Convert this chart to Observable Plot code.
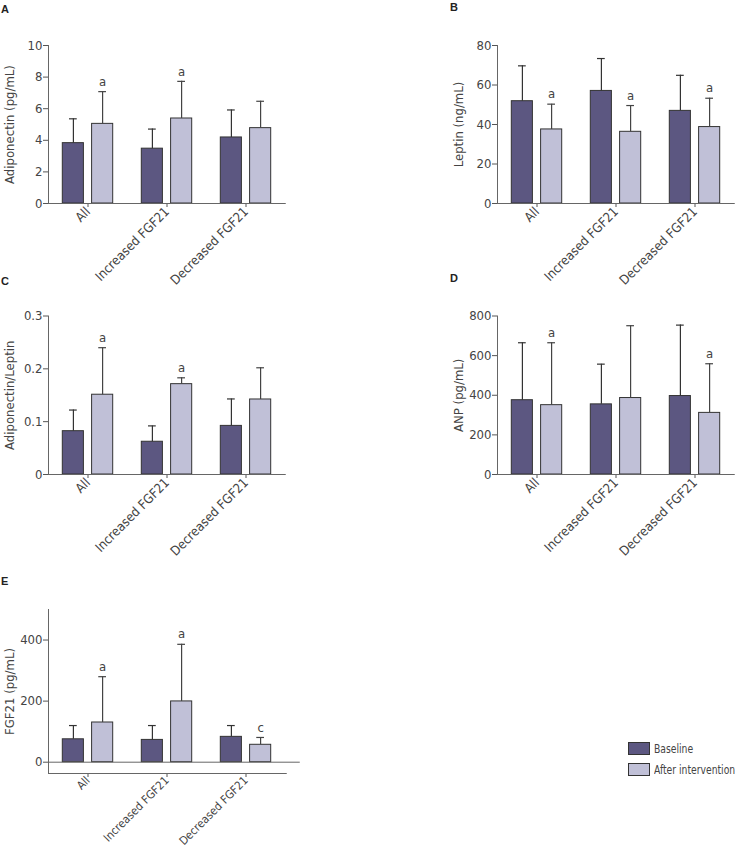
<!DOCTYPE html>
<html><head><meta charset="utf-8">
<script src="https://cdn.jsdelivr.net/npm/d3@7"></script>
<script src="https://cdn.jsdelivr.net/npm/@observablehq/plot@0.6"></script>
<style>
body{margin:0;background:#fff;}
#root{position:relative;width:737px;height:847px;overflow:hidden;font-family:"Liberation Sans Narrow","DejaVu Sans Condensed","Liberation Sans",sans-serif;color:#444;}
.panel{position:absolute;}
.letter{position:absolute;font-weight:bold;font-size:11px;color:#222;font-family:"Liberation Sans","DejaVu Sans",sans-serif;}
.sw{position:absolute;width:20px;height:11px;border:1px solid #333;}
.lt{position:absolute;font-size:12.5px;line-height:13px;color:#444;white-space:nowrap;transform:scaleX(0.82);transform-origin:0 50%;}
</style></head><body><div id="root"></div>
<script>
const categories = ["All", "Increased FGF21", "Decreased FGF21"];
const seriesNames = ["Baseline", "After intervention"];
const baseColor = "#5c5781";
const afterColor = "#c0c0d7";

// A: Adiponectin (pg/mL)
const adipoBase = [3.82, 3.47, 4.18];
const adipoBaseSD = [1.54, 1.24, 1.74];
const adipoAfter = [5.04, 5.38, 4.77];
const adipoAfterSD = [2.04, 2.35, 1.70];
const adipoMarks = ["a", "a", ""];
const adipoTicks = [0, 2, 4, 6, 8, 10];

// B: Leptin (ng/mL)
const leptinBase = [51.8, 57.0, 46.9];
const leptinBaseSD = [17.9, 16.4, 18.0];
const leptinAfter = [37.5, 36.3, 38.7];
const leptinAfterSD = [12.8, 13.3, 14.6];
const leptinMarks = ["a", "a", "a"];
const leptinTicks = [0, 20, 40, 60, 80];

// C: Adiponectin/Leptin
const ratioBase = [0.082, 0.062, 0.092];
const ratioBaseSD = [0.040, 0.030, 0.051];
const ratioAfter = [0.151, 0.171, 0.142];
const ratioAfterSD = [0.089, 0.012, 0.060];
const ratioMarks = ["a", "a", ""];
const ratioTicks = [0, 0.1, 0.2, 0.3];

// D: ANP (pg/mL)
const anpBase = [375, 354, 396];
const anpBaseSD = [290, 203, 358];
const anpAfter = [350, 386, 311];
const anpAfterSD = [315, 365, 248];
const anpMarks = ["a", "", "a"];
const anpTicks = [0, 200, 400, 600, 800];

// E: FGF21 (pg/mL)
const fgfBase = [75, 73, 83];
const fgfBaseSD = [45, 47, 37];
const fgfAfter = [130, 199, 57];
const fgfAfterSD = [150, 187, 24];
const fgfMarks = ["a", "a", "c"];
const fgfTicks = [0, 200, 400];

const root = document.getElementById("root");
const FONT = '"Liberation Sans Narrow","DejaVu Sans Condensed","Liberation Sans",sans-serif';

function rows(means, sds, marks, s) {
  return categories.map((c, i) => ({category: c, series: s, mean: means[i], sd: sds[i], hi: means[i] + sds[i], mark: marks ? marks[i] : ""}));
}

function panel(o) {
  const b = rows(o.base, o.baseSD, null, seriesNames[0]);
  const a = rows(o.after, o.afterSD, o.marks, seriesNames[1]);
  const marks = [
    Plot.barY(b, {x: "category", y: "mean", fill: baseColor, stroke: "#333", strokeWidth: 1, insetLeft: 14.3, insetRight: 43.6}),
    Plot.barY(a, {x: "category", y: "mean", fill: afterColor, stroke: "#333", strokeWidth: 1, insetLeft: 43.6, insetRight: 14.3}),
    Plot.ruleX(b, {x: "category", y1: "mean", y2: "hi", dx: -14.6, stroke: "#333", strokeWidth: 1.2}),
    Plot.ruleX(a, {x: "category", y1: "mean", y2: "hi", dx: 14.6, stroke: "#444", strokeWidth: 1.2}),
    Plot.tickY(b, {x: "category", y: "hi", insetLeft: 21, insetRight: 50.25, stroke: "#333", strokeWidth: 1.2}),
    Plot.tickY(a, {x: "category", y: "hi", insetLeft: 50.25, insetRight: 21, stroke: "#444", strokeWidth: 1.2}),
    Plot.text(a, {x: "category", y: "hi", text: "mark", dx: 14.6, dy: -10, fontSize: 13, fill: "#444"}),
    Plot.axisY({ticks: o.yTicks, tickFormat: d => String(d), tickSize: 5, tickPadding: 1, fontSize: 13, label: o.yLabel, labelAnchor: "center", labelOffset: 44, labelArrow: "none", stroke: "#555"}),
    Plot.axisX({tickRotate: -45, tickSize: 4, tickPadding: o.xPad ?? 2, fontSize: o.xFont || 13, label: null, stroke: "#555"}),
    Plot.frame({anchor: "left", stroke: "#666"}),
  ];
  if (o.zeroExtend) {
    marks.push(Plot.frame({anchor: "bottom", stroke: "#666"}));
    marks.push(Plot.ruleY([0], {stroke: "#666", insetRight: -14}));
  } else {
    marks.push(Plot.ruleY([0], {stroke: "#666"}));
  }
  const svg = Plot.plot({
    width: o.width, height: o.height,
    marginLeft: 48, marginRight: o.width - 48 - 237.75,
    marginTop: o.marginTop, marginBottom: o.height - o.zeroY,
    style: {fontFamily: FONT, color: "#444", background: "transparent", overflow: "visible"},
    x: {domain: categories, padding: 0, axis: null},
    y: {domain: o.yDomain, axis: null},
    marks
  });
  const div = document.createElement("div");
  div.className = "panel";
  div.style.left = o.left + "px";
  div.style.top = o.top + "px";
  div.appendChild(svg);
  root.appendChild(div);
}

panel({left: 0, top: 0, width: 300, height: 270, marginTop: 45, zeroY: 203, yDomain: [0, 10], yTicks: adipoTicks, yLabel: "Adiponectin (pg/mL)", base: adipoBase, baseSD: adipoBaseSD, after: adipoAfter, afterSD: adipoAfterSD, marks: adipoMarks});
panel({left: 449, top: 0, width: 288, height: 270, marginTop: 45, zeroY: 203, yDomain: [0, 80], yTicks: leptinTicks, yLabel: "Leptin (ng/mL)", base: leptinBase, baseSD: leptinBaseSD, after: leptinAfter, afterSD: leptinAfterSD, marks: leptinMarks});
panel({left: 0, top: 270, width: 300, height: 270, marginTop: 45.5, zeroY: 204, yDomain: [0, 0.3], yTicks: ratioTicks, yLabel: "Adiponectin/Leptin", base: ratioBase, baseSD: ratioBaseSD, after: ratioAfter, afterSD: ratioAfterSD, marks: ratioMarks});
panel({left: 449, top: 270, width: 288, height: 270, marginTop: 45.5, zeroY: 204, yDomain: [0, 800], yTicks: anpTicks, yLabel: "ANP (pg/mL)", base: anpBase, baseSD: anpBaseSD, after: anpAfter, afterSD: anpAfterSD, marks: anpMarks});
panel({left: 0, top: 560, width: 320, height: 287, marginTop: 49, zeroY: 213, yDomain: [-37, 500], yTicks: fgfTicks, yLabel: "FGF21 (pg/mL)", base: fgfBase, baseSD: fgfBaseSD, after: fgfAfter, afterSD: fgfAfterSD, marks: fgfMarks, zeroExtend: true, xFont: 11.5, xPad: 1});

// panel letters
[["A", 1, 3], ["B", 450, 1], ["C", 1, 275], ["D", 450, 272], ["E", 1, 575]].forEach(([t, x, y]) => {
  const d = document.createElement("div");
  d.className = "letter"; d.textContent = t;
  d.style.left = x + "px"; d.style.top = y + "px";
  root.appendChild(d);
});

// legend
[[seriesNames[0], baseColor, 742], [seriesNames[1], afterColor, 763]].forEach(([t, c, y]) => {
  const s = document.createElement("div");
  s.className = "sw"; s.style.left = "628px"; s.style.top = y + "px"; s.style.background = c;
  root.appendChild(s);
  const l = document.createElement("div");
  l.className = "lt"; l.textContent = t; l.style.left = "654px"; l.style.top = (y - 0.5) + "px";
  root.appendChild(l);
});
</script></body></html>
